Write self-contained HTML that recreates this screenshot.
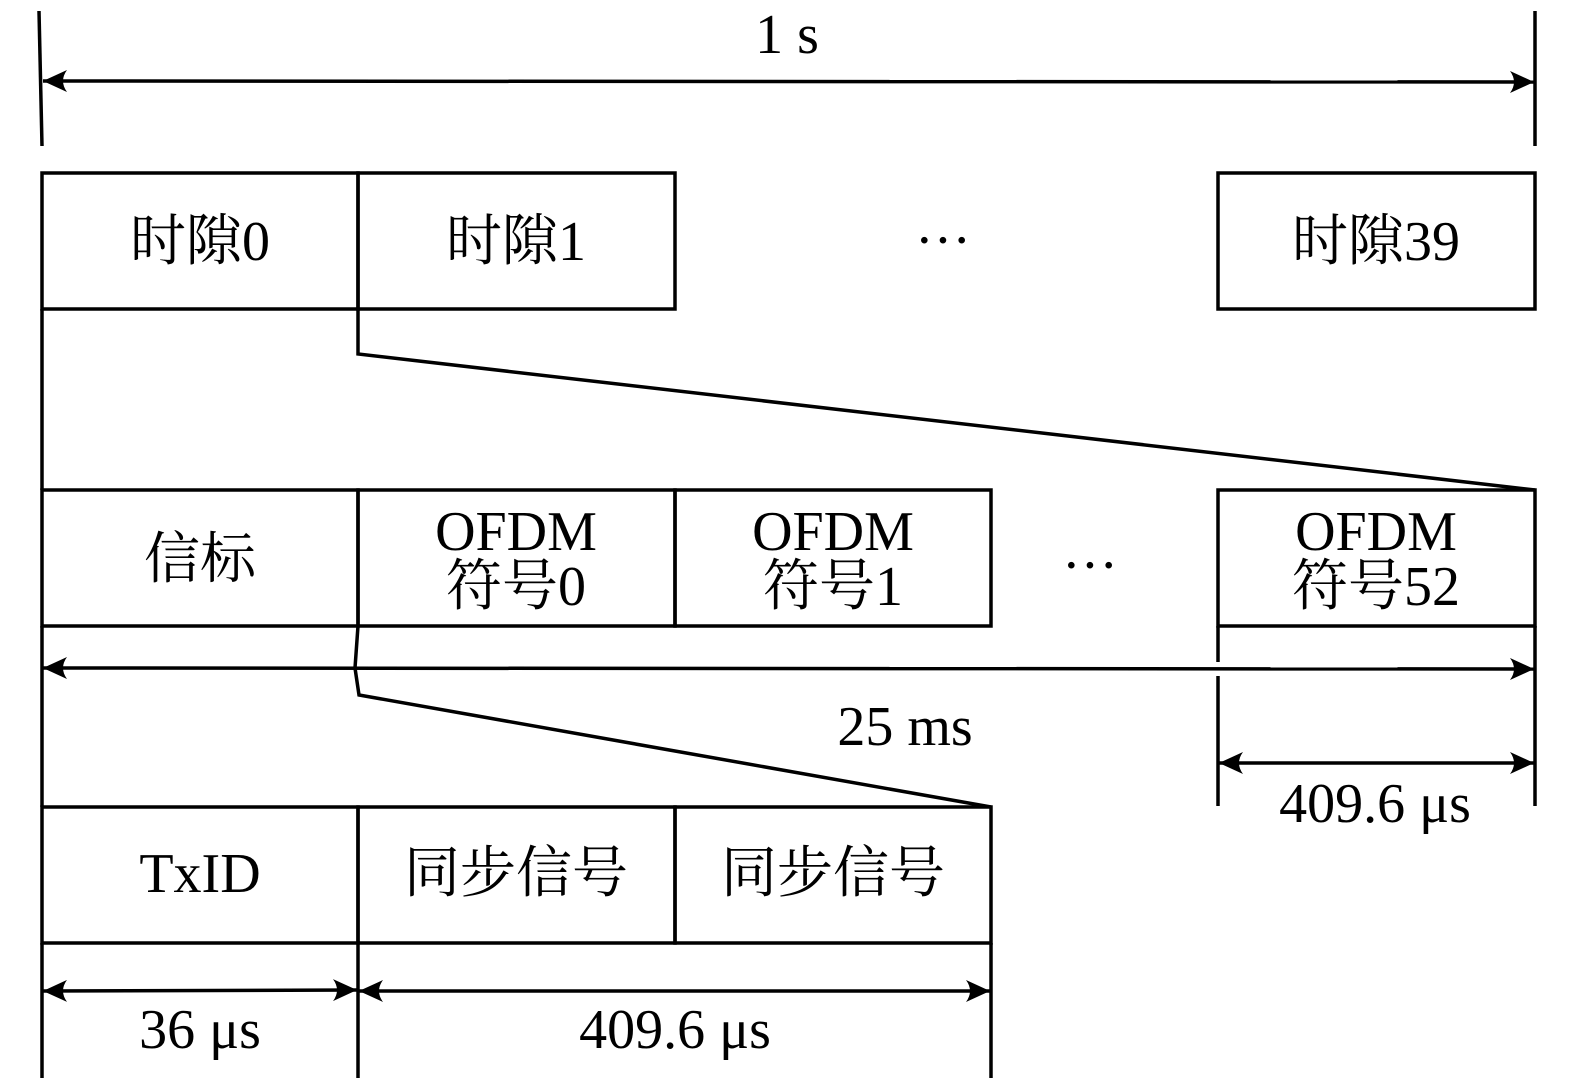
<!DOCTYPE html>
<html><head><meta charset="utf-8"><style>
html,body{margin:0;padding:0;background:#fff;}
svg{display:block;}
text{font-family:"Liberation Serif","Noto Serif CJK SC",serif;font-size:56px;fill:#000;text-anchor:middle;}
</style></head><body>
<svg width="1575" height="1085" viewBox="0 0 1575 1085" xmlns="http://www.w3.org/2000/svg">
<defs>
<marker id="a" viewBox="0 0 24 22" refX="24" refY="11" markerWidth="24" markerHeight="22" markerUnits="userSpaceOnUse" orient="auto-start-reverse">
<path d="M0,0 Q8,11 0,22 L24,11 Z" fill="#000"/>
</marker>
</defs>
<g stroke="#000" stroke-width="3.5" fill="none">
<line x1="39" y1="11" x2="42" y2="146"/>
<line x1="1535" y1="11" x2="1535" y2="146"/>
<line x1="43" y1="81" x2="1534" y2="82" marker-start="url(#a)" marker-end="url(#a)"/>
<rect x="42" y="173" width="316" height="136"/>
<rect x="358" y="173" width="317" height="136"/>
<rect x="1218" y="173" width="317" height="136"/>
<line x1="42" y1="309" x2="42" y2="490"/>
<polyline points="358,309 358,354 1535,490"/>
<rect x="42" y="490" width="316" height="136"/>
<rect x="358" y="490" width="317" height="136"/>
<rect x="675" y="490" width="316" height="136"/>
<rect x="1218" y="490" width="317" height="136"/>
<line x1="43" y1="668" x2="1534" y2="669" marker-start="url(#a)" marker-end="url(#a)"/>
<polyline points="358,626 355,668 359,695 991,807"/>
<line x1="42" y1="626" x2="42" y2="807"/>
<line x1="1218" y1="626" x2="1218" y2="662"/>
<line x1="1218" y1="676" x2="1218" y2="806"/>
<line x1="1535" y1="626" x2="1535" y2="806"/>
<line x1="1219" y1="763" x2="1534" y2="763" marker-start="url(#a)" marker-end="url(#a)"/>
<rect x="42" y="807" width="316" height="136"/>
<rect x="358" y="807" width="317" height="136"/>
<rect x="675" y="807" width="316" height="136"/>
<line x1="42" y1="943" x2="42" y2="1078"/>
<line x1="358" y1="943" x2="358" y2="1078"/>
<line x1="991" y1="943" x2="991" y2="1078"/>
<line x1="43" y1="991" x2="357" y2="990" marker-start="url(#a)" marker-end="url(#a)"/>
<line x1="359" y1="991" x2="990" y2="991" marker-start="url(#a)" marker-end="url(#a)"/>
</g>
<text x="787" y="53">1 s</text>
<text x="200" y="260">时隙0</text>
<text x="516" y="260">时隙1</text>
<text x="943" y="259">···</text>
<text x="1376" y="260">时隙39</text>
<text x="200" y="578">信标</text>
<text x="516" y="550">OFDM</text><text x="516" y="605">符号0</text>
<text x="833" y="550">OFDM</text><text x="833" y="605">符号1</text>
<text x="1090" y="584">···</text>
<text x="1376" y="550">OFDM</text><text x="1376" y="605">符号52</text>
<text x="905" y="745">25 ms</text>
<text x="1375" y="822">409.6 μs</text>
<text x="200" y="892">TxID</text>
<text x="516" y="892">同步信号</text>
<text x="833" y="892">同步信号</text>
<text x="200" y="1048">36 μs</text>
<text x="675" y="1048">409.6 μs</text>
</svg>
</body></html>
